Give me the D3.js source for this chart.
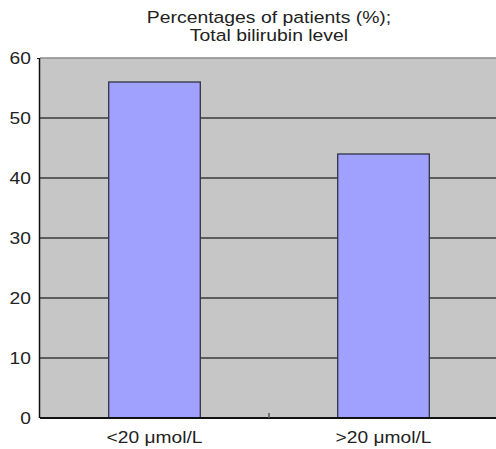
<!DOCTYPE html>
<html>
<head>
<meta charset="utf-8">
<script src="https://cdn.jsdelivr.net/npm/d3@7"></script>
<style>
  body { margin: 0; background: #fff; }
  svg { display: block; font-family: "Liberation Sans", Arial, sans-serif; }
</style>
</head>
<body>
<svg width="496" height="449"></svg>
<script>
// данные графика
const categories = ["<20 μmol/L", ">20 μmol/L"];
const percents = [56, 44];
const yTicks = [0, 10, 20, 30, 40, 50, 60];
const titleLines = ["Percentages of patients (%);", "Total bilirubin level"];

const svg = d3.select("svg");

// область построения (правый край уходит за окно)
const area = { left: 40, right: 498, top: 58, bottom: 418 };
const stretch = 1.13; // текст в оригинале чуть растянут по горизонтали

const scaleX = d3.scaleBand()
    .domain(categories)
    .range([area.left, area.right])
    .paddingInner(0.6)
    .paddingOuter(0.3);

const scaleY = d3.scaleLinear()
    .domain([0, 60])
    .range([area.bottom, area.top]);

// серый фон
svg.append("rect")
    .attr("x", area.left)
    .attr("y", area.top)
    .attr("width", area.right - area.left)
    .attr("height", area.bottom - area.top)
    .style("fill", "#c6c6c6");

// линии сетки
svg.append("g")
    .selectAll("line")
    .data(yTicks.filter(d => d > 0))
    .join("line")
    .attr("x1", area.left)
    .attr("x2", area.right)
    .attr("y1", d => scaleY(d))
    .attr("y2", d => scaleY(d))
    .style("stroke", d => d === 60 ? "#8a8a8a" : "#3a3a3a")
    .style("stroke-width", 1.5);

// столбцы
svg.append("g")
    .selectAll("rect")
    .data(percents)
    .join("rect")
    .attr("x", (d, i) => scaleX(categories[i]))
    .attr("y", d => scaleY(d))
    .attr("width", scaleX.bandwidth())
    .attr("height", d => area.bottom - scaleY(d))
    .style("fill", "#a0a0ff")
    .style("stroke", "#333344")
    .style("stroke-width", 1.3);

// ось Y
const axisY = d3.axisLeft(scaleY).tickValues(yTicks).tickSize(3).tickPadding(5);
const gY = svg.append("g")
    .attr("transform", `translate(${area.left}, 0)`)
    .call(axisY);
gY.select(".domain").attr("d", `M-0.5,${area.top}V${area.bottom}`).style("stroke", "#111").style("stroke-width", 1.5);
gY.selectAll(".tick line").style("stroke", "#111").attr("x2", d => d === 60 ? -3 : 0);
gY.selectAll("text").style("font-size", "17px").style("fill", "#222")
    .attr("font-family", null)
    .attr("transform", `scale(${stretch},1)`);

// ось X
const axisX = d3.axisBottom(scaleX).tickSize(0).tickPadding(13);
const gX = svg.append("g")
    .attr("transform", `translate(0, ${area.bottom})`)
    .call(axisX);
gX.select(".domain").attr("d", `M${area.left},0H${area.right}`).style("stroke", "#111").style("stroke-width", 2);
gX.selectAll("text").style("font-size", "17px").style("fill", "#222")
    .attr("font-family", null)
    .attr("transform", `scale(${stretch},1)`);

// засечка между категориями
const midX = (scaleX(categories[0]) + scaleX.bandwidth() / 2 + scaleX(categories[1]) + scaleX.bandwidth() / 2) / 2;
svg.append("line")
    .attr("x1", midX).attr("x2", midX)
    .attr("y1", area.bottom).attr("y2", area.bottom - 5)
    .style("stroke", "#555")
    .style("stroke-width", 1.5);

// заголовок
svg.append("g")
    .attr("transform", `translate(${(area.left + area.right) / 2}, 0) scale(${stretch + 0.01},1)`)
    .append("text")
    .attr("text-anchor", "middle")
    .style("font-size", "17px")
    .style("fill", "#222")
    .selectAll("tspan")
    .data(titleLines)
    .join("tspan")
    .attr("x", 0)
    .attr("y", (d, i) => 23 + i * 18)
    .text(d => d);
</script>
</body>
</html>
